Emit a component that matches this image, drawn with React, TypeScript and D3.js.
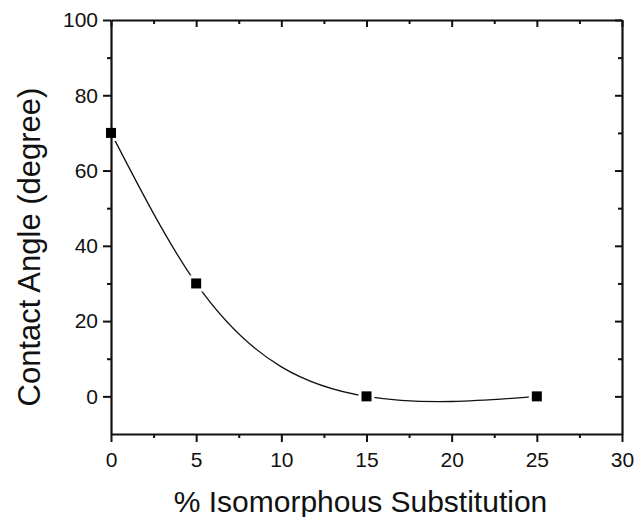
import React, { useRef, useEffect } from "react";
import * as d3 from "d3";

const substitution = [0, 5, 15, 25];
const contactAngle = [70, 30, 0, 0];
const xTicks = [0, 5, 10, 15, 20, 25, 30];
const yTicks = [0, 20, 40, 60, 80, 100];
const xMinor = [2.5, 7.5, 12.5, 17.5, 22.5, 27.5];
const yMinor = [10, 30, 50, 70, 90];

// natural cubic spline in x (Origin-style "Spline" connection), drawn as bezier segments
function naturalSplineX(context: any) {
  let pts: number[][] = [];
  return {
    areaStart() {},
    areaEnd() {},
    lineStart() { pts = []; },
    point(x: number, y: number) { pts.push([+x, +y]); },
    lineEnd() {
      const n = pts.length;
      if (!n) return;
      context.moveTo(pts[0][0], pts[0][1]);
      if (n < 3) {
        for (let i = 1; i < n; i++) context.lineTo(pts[i][0], pts[i][1]);
        return;
      }
      const h = d3.range(n - 1).map(i => pts[i + 1][0] - pts[i][0]);
      const s = d3.range(n - 1).map(i => (pts[i + 1][1] - pts[i][1]) / h[i]);
      // tridiagonal solve for second derivatives, M0 = Mn-1 = 0
      const M = new Array(n).fill(0);
      const a: number[] = [], b: number[] = [], c: number[] = [], r: number[] = [];
      for (let i = 1; i < n - 1; i++) {
        a.push(h[i - 1]);
        b.push(2 * (h[i - 1] + h[i]));
        c.push(h[i]);
        r.push(6 * (s[i] - s[i - 1]));
      }
      const m = b.length;
      for (let i = 1; i < m; i++) {
        const w = a[i] / b[i - 1];
        b[i] -= w * c[i - 1];
        r[i] -= w * r[i - 1];
      }
      const sol = new Array(m).fill(0);
      sol[m - 1] = r[m - 1] / b[m - 1];
      for (let i = m - 2; i >= 0; i--) sol[i] = (r[i] - c[i] * sol[i + 1]) / b[i];
      for (let i = 0; i < m; i++) M[i + 1] = sol[i];
      for (let i = 0; i < n - 1; i++) {
        const d0 = s[i] - (h[i] * (2 * M[i] + M[i + 1])) / 6;
        const d1 = s[i] + (h[i] * (M[i] + 2 * M[i + 1])) / 6;
        const [x0, y0] = pts[i];
        const [x1, y1] = pts[i + 1];
        context.bezierCurveTo(
          x0 + h[i] / 3, y0 + (d0 * h[i]) / 3,
          x1 - h[i] / 3, y1 - (d1 * h[i]) / 3,
          x1, y1
        );
      }
    },
  };
}

const App = () => {
  const ref = useRef<HTMLDivElement>(null);

  useEffect(() => {
    const width = 638;
    const height = 517;
    const marginLeft = 111;
    const marginRight = 16;
    const marginTop = 20;
    const marginBottom = 83;
    const ink = "#111";
    const font = "'Liberation Sans', Arial, sans-serif";

    const x = d3.scaleLinear().domain([0, 30]).range([marginLeft, width - marginRight]);
    const y = d3.scaleLinear().domain([-10, 100]).range([height - marginBottom, marginTop]);

    const data = substitution.map((v, i) => ({ x: v, y: contactAngle[i] }));

    const svg = d3.create("svg")
      .attr("width", width)
      .attr("height", height)
      .attr("viewBox", [0, 0, width, height])
      .style("position", "absolute")
      .style("left", "0px")
      .style("top", "0px")
      .style("background", "#fff")
      .style("font-family", font);

    const line = d3.line<{ x: number; y: number }>()
      .x(d => x(d.x))
      .y(d => y(d.y))
      .curve(naturalSplineX as any);

    svg.append("path")
      .datum(data)
      .attr("fill", "none")
      .attr("stroke", ink)
      .attr("stroke-width", 1.3)
      .attr("d", line);

    // white halo around markers, like the gaps in the original
    svg.append("g")
      .selectAll("rect")
      .data(data)
      .join("rect")
      .attr("x", d => x(d.x) - 8)
      .attr("y", d => y(d.y) - 8)
      .attr("width", 16)
      .attr("height", 16)
      .attr("fill", "#fff");

    const fontSize = 21;
    const styleTicks = (g: any) => g.selectAll(".tick line").attr("stroke-width", 2).attr("stroke", ink);
    const styleDomain = (g: any) => g.select(".domain").attr("stroke-width", 2.2).attr("stroke", ink);

    // bottom axis
    svg.append("g")
      .attr("transform", `translate(0,${y(-10)})`)
      .call(d3.axisBottom(x).tickValues(xTicks).tickSize(8).tickSizeOuter(0).tickFormat(d3.format("d")))
      .call(styleDomain)
      .call(styleTicks)
      .call(g => g.selectAll(".tick text")
        .attr("fill", ink)
        .attr("font-size", fontSize)
        .attr("font-family", font)
        .attr("dy", null)
        .attr("y", 33));
    svg.append("g")
      .attr("transform", `translate(0,${y(-10)})`)
      .call(d3.axisBottom(x).tickValues(xMinor).tickSize(4).tickSizeOuter(0).tickFormat(() => ""))
      .call(g => g.select(".domain").remove())
      .call(styleTicks);

    // top axis, ticks inward
    svg.append("g")
      .attr("transform", `translate(0,${y(100)})`)
      .call(d3.axisBottom(x).tickValues(xTicks).tickSize(7).tickSizeOuter(0).tickFormat(() => ""))
      .call(styleDomain)
      .call(styleTicks);
    svg.append("g")
      .attr("transform", `translate(0,${y(100)})`)
      .call(d3.axisBottom(x).tickValues(xMinor).tickSize(4).tickSizeOuter(0).tickFormat(() => ""))
      .call(g => g.select(".domain").remove())
      .call(styleTicks);

    // left axis
    svg.append("g")
      .attr("transform", `translate(${x(0)},0)`)
      .call(d3.axisLeft(y).tickValues(yTicks).tickSize(8).tickSizeOuter(0).tickFormat(d3.format("d")))
      .call(styleDomain)
      .call(styleTicks)
      .call(g => g.selectAll(".tick text")
        .attr("fill", ink)
        .attr("font-size", fontSize)
        .attr("font-family", font)
        .attr("x", -13));
    svg.append("g")
      .attr("transform", `translate(${x(0)},0)`)
      .call(d3.axisLeft(y).tickValues(yMinor).tickSize(4).tickSizeOuter(0).tickFormat(() => ""))
      .call(g => g.select(".domain").remove())
      .call(styleTicks);

    // right axis, ticks inward
    svg.append("g")
      .attr("transform", `translate(${x(30)},0)`)
      .call(d3.axisLeft(y).tickValues(yTicks).tickSize(7).tickSizeOuter(0).tickFormat(() => ""))
      .call(styleDomain)
      .call(styleTicks);
    svg.append("g")
      .attr("transform", `translate(${x(30)},0)`)
      .call(d3.axisLeft(y).tickValues(yMinor).tickSize(4).tickSizeOuter(0).tickFormat(() => ""))
      .call(g => g.select(".domain").remove())
      .call(styleTicks);

    // markers
    svg.append("g")
      .selectAll("rect")
      .data(data)
      .join("rect")
      .attr("x", d => x(d.x) - 5)
      .attr("y", d => y(d.y) - 5)
      .attr("width", 10)
      .attr("height", 10)
      .attr("fill", "#000");

    // axis titles
    svg.append("text")
      .attr("x", (x(0) + x(30)) / 2 - 6)
      .attr("y", 512)
      .attr("text-anchor", "middle")
      .attr("fill", ink)
      .attr("font-size", 30)
      .text("% Isomorphous Substitution");

    svg.append("text")
      .attr("transform", `translate(40,${247}) rotate(-90)`)
      .attr("text-anchor", "middle")
      .attr("fill", ink)
      .attr("font-size", 31)
      .text("Contact Angle (degree)");

    ref.current!.innerHTML = "";
    ref.current!.appendChild(svg.node()!);
  }, []);

  return <div ref={ref} />;
};

export default App;
